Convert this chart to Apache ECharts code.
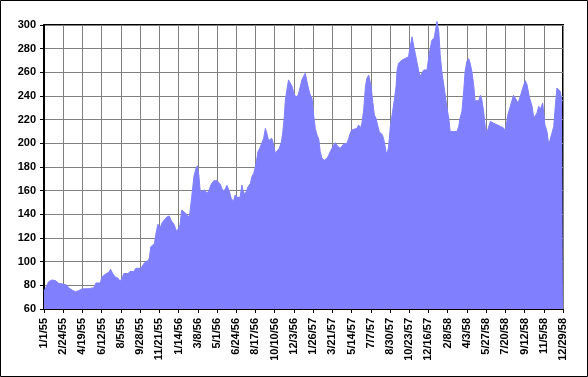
<!DOCTYPE html>
<html>
<head>
<meta charset="utf-8">
<script src="https://cdn.jsdelivr.net/npm/echarts@6/dist/echarts.min.js"></script>
<style>
  html, body { margin: 0; padding: 0; background: #fff; }
  #chart { width: 588px; height: 377px; }
</style>
</head>
<body>
<div id="chart"></div>
<script>
// days counted from 1/1/55
const dayIndex = [0,2,13,22,27,32,41,55,65,69,79,88,97,107,126,140,146,158,163,172,182,187,193,200,208,213,219,224,236,242,252,258,272,275,280,285,292,296,300,310,315,320,327,331,339,346,352,358,365,373,382,387,391,401,408,410,415,418,421,427,431,435,439,444,451,458,464,470,477,486,491,495,502,508,514,521,526,532,537,545,551,556,561,567,573,580,584,589,596,601,606,610,617,622,626,631,640,645,650,655,661,667,671,675,678,683,687,692,697,702,708,714,720,725,730,734,739,744,748,753,758,762,767,772,776,781,787,795,800,804,809,814,818,825,832,837,842,851,856,860,865,870,879,884,889,893,898,903,907,912,915,919,923,928,933,937,942,951,956,961,964,968,973,976,980,984,989,992,996,1006,1015,1020,1024,1029,1034,1039,1043,1048,1053,1057,1062,1067,1071,1076,1081,1085,1090,1096,1104,1109,1113,1118,1123,1127,1132,1137,1141,1151,1155,1160,1165,1169,1174,1179,1183,1188,1193,1197,1202,1207,1211,1221,1226,1230,1235,1240,1244,1248,1254,1263,1273,1282,1291,1296,1303,1310,1319,1324,1332,1338,1348,1352,1357,1363,1371,1376,1380,1385,1390,1394,1401,1407,1413,1418,1422,1427,1432,1436,1441,1446,1450,1455,1458];

const price = [75,76,83,84.5,85.3,84,81.7,81,80,78,76,74.6,75.5,77,77.2,78,82,82,87,89.3,91,93.5,90,87,86,83.7,85.5,90,90,91.8,91.5,94.4,94.4,93,98,100,100.7,103,112.6,115,124.5,131.6,129,132.4,135.8,138,138.5,134.4,131.6,125.3,131,143.7,145,140,137.5,141.8,155,163,171.8,179,181,173,159,158.3,160.6,157.7,160.6,165.6,168.4,168.4,169.6,165.6,160,160.6,164.5,159,153.5,150.7,156.3,154,154.9,164.8,157.7,158.3,163.3,166.2,171.8,174.6,183,192.9,195.8,195,204.2,212.7,208.5,202.3,204.2,198.6,191.6,191,195.8,201.4,209.8,222.5,236.6,246.5,253.6,252.2,248,242.3,238.9,240.8,248,254.1,255,259.2,252,245,240.8,238,222.5,212.7,207,203.4,192.9,187.3,185.6,187.3,190.1,192.9,195.8,198.6,200.5,197.5,195.8,197.2,199.4,200,204.2,208.5,211.3,209.8,212.7,215.5,212.7,216.9,228.2,248,255,257.7,259.2,248,236.6,223.9,221,215.5,209.8,207,201.4,192.9,191,197.2,214,220.3,228.2,236.6,248,262,267.6,270.4,271.8,271,273.2,282.2,290,281.6,276,268.2,260.5,257,258.5,262,260.5,262,273.2,280.3,287.3,288.7,303,294.6,275,259.4,249.6,241.1,229.8,221.4,210,210,208.7,210,214.3,221.4,227,244,260.7,269.3,271.5,267.9,260.7,249.6,236,236,240.6,236.9,227,213,208.7,209.8,218.6,217,215.7,214.3,213,210,224,231.3,240.6,240,234,239.7,249.6,252.9,249.6,239.7,231.3,221.4,220,225.6,231.3,228.5,234,215.7,210,198.8,198.8,208.7,214.3,229.8,246.7,248,244,236,236];

const tickLabels = ['1/1/55','2/24/55','4/19/55','6/12/55','8/5/55','9/28/55','11/21/55','1/14/56','3/8/56','5/1/56','6/24/56','8/17/56','10/10/56','12/3/56','1/26/57','3/21/57','5/14/57','7/7/57','8/30/57','10/23/57','12/16/57','2/8/58','4/3/58','5/27/58','7/20/58','9/12/58','11/5/58','12/29/58'];
const tickStep = 54;

const chart = echarts.init(document.getElementById('chart'), null, { renderer: 'canvas' });

const option = {
  animation: false,
  backgroundColor: '#fff',
  grid: {
    left: 44, top: 25, width: 519, height: 284,
    show: true,
    borderColor: '#000',
    borderWidth: 2,
    outerBoundsMode: 'none'
  },
  graphic: [{
    type: 'rect',
    shape: { x: 0.5, y: 0.5, width: 587, height: 376 },
    style: { fill: null, stroke: '#000', lineWidth: 1 },
    z: 100
  }],
  xAxis: {
    type: 'value',
    min: 0,
    max: tickStep * (tickLabels.length - 1),
    interval: tickStep,
    axisLine: { show: true, lineStyle: { color: '#000', width: 1 } },
    axisTick: { show: true, length: 4, lineStyle: { color: '#000' } },
    splitLine: { show: true, lineStyle: { color: '#808080', width: 1 } },
    axisLabel: {
      rotate: 90,
      margin: 9,
      color: '#000',
      fontFamily: 'Liberation Sans, Arial, sans-serif',
      fontWeight: 'bold',
      fontSize: 11,
      showMinLabel: true,
      showMaxLabel: true,
      formatter: v => tickLabels[Math.round(v / tickStep)] || ''
    }
  },
  yAxis: {
    type: 'value',
    min: 60,
    max: 300,
    interval: 20,
    axisLine: { show: true, lineStyle: { color: '#000', width: 2 } },
    axisTick: { show: true, length: 4, lineStyle: { color: '#000' } },
    splitLine: { show: true, lineStyle: { color: '#808080', width: 1 } },
    axisLabel: {
      margin: 8,
      color: '#000',
      fontFamily: 'Liberation Sans, Arial, sans-serif',
      fontWeight: 'bold',
      fontSize: 11
    }
  },
  series: [{
    type: 'line',
    data: dayIndex.map((d, i) => [d, price[i]]),
    symbol: 'none',
    smooth: false,
    clip: false,
    lineStyle: { color: '#8080FF', width: 1 },
    areaStyle: { color: '#8080FF', opacity: 1 },
    z: 2
  }]
};

chart.setOption(option);
</script>
</body>
</html>
